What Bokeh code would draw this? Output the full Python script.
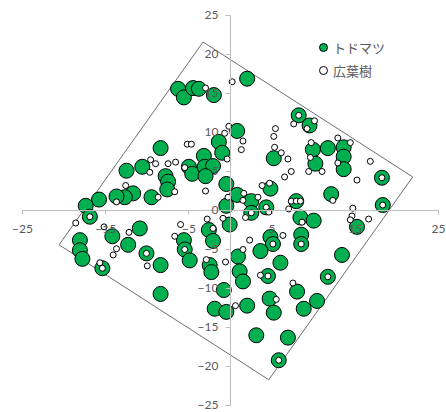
from bokeh.plotting import figure
from bokeh.models import Legend, LegendItem, FixedTicker
from bokeh.embed import file_html
from bokeh.resources import INLINE

# plot boundary (corners)
boundary_x = [-3.3, 21.9, 4.6, -20.6, -3.3]
boundary_y = [21.6, 4.3, -21.7, -4.4, 21.6]

# トドマツ positions
todomatsu_x = [-6.3, -5.6, -4.5, -3.8, -2.0, 2.0, 8.2, 9.5, 0.8, -1.4,
               -8.4, -1.0, -3.2, -5.0, -4.6, -3.1, -2.1, -3.0, 5.2, 9.9,
               11.7, 13.6, 13.6, 10.2, 13.6, 18.2, 12.1, 4.8, -0.5, -12.5,
               -10.6, -7.8, -7.5, -7.6, -11.7, -12.7, -13.7, -9.5, -15.8, -17.4,
               -16.9, -14.2, -10.9, -12.3, -18.1, -18.1, -17.8, -10.1, -5.6, -5.5,
               -4.9, -8.4, -2.6, -2.1, -2.5, -2.3, -0.5, 0.8, 2.5, 2.5,
               4.3, 7.9, 8.4, 10.0, 8.5, 8.5, -0.1, 4.8, 5.1, 3.6,
               0.9, 6.0, 13.4, 15.2, 18.3, -15.4, 1.1, 1.5, 4.5, 11.7,
               -8.4, -0.8, 8.0, 4.7, 10.4, 2.0, -1.9, -0.5, 5.2, 8.8,
               3.1, 6.9, 5.8]
todomatsu_y = [15.6, 14.5, 15.7, 15.6, 14.8, 16.9, 12.2, 10.9, 10.2, 8.8,
               8.0, 7.4, 7.0, 5.6, 4.7, 5.6, 5.7, 4.4, 6.7, 7.8,
               8.0, 8.1, 6.9, 6.0, 5.3, 4.2, 2.1, 2.8, 3.4, 5.1,
               5.6, 4.4, 3.7, 2.7, 2.2, 1.7, 1.8, 1.7, 1.4, 0.6,
               -0.8, -3.3, -2.3, -4.4, -3.8, -5.1, -6.2, -5.5, -3.8, -5.0,
               -6.4, -7.0, -2.5, -3.9, -7.0, -7.9, 0.6, 2.0, 1.2, -0.3,
               0.4, 1.2, -0.9, -1.3, -3.1, -4.3, -1.8, -3.4, -4.3, -5.2,
               -5.9, -6.7, -5.7, -2.1, 0.7, -7.4, -7.8, -9.1, -8.4, -8.5,
               -10.7, -10.2, -10.4, -11.3, -11.6, -12.2, -12.6, -13.0, -13.1, -12.6,
               -16.0, -16.3, -19.2]

# 広葉樹 positions
koyoju_x = [-3.0, 0.2, 9.2, 10.1, 7.6, 5.4, 5.2, -0.2, -0.7, 12.9,
            -5.2, -4.7, 1.5, 1.3, 5.3, 6.1, 6.9, 9.7, 9.6, 9.4,
            14.4, 12.9, 11.0, 16.8, 15.2, 12.3, 7.3, 6.5, 3.8, 4.7,
            -3.0, -5.5, -0.4, -9.6, -9.0, -9.7, -7.5, -6.6, -6.7, -12.6,
            -13.7, -8.7, -18.6, -15.2, -12.2, -16.9, -13.7, -14.1, -10.1, -6.7,
            -6.0, -5.5, -2.8, -2.1, -2.9, -0.9, -0.3, 1.6, 1.5, 3.3,
            2.5, 1.8, 4.3, 4.6, 7.0, 7.3, 7.9, 8.4, 8.6, 8.5,
            2.3, 6.3, 5.1, 1.5, -0.6, 14.7, 14.6, 14.4, 16.6, 18.3,
            18.2, 8.2, -15.7, -15.4, -10.0, 3.6, 4.5, 11.7, 7.5, 5.5,
            0.6, 5.8]
koyoju_y = [15.7, 16.5, 10.5, 11.5, 11.1, 10.5, 9.5, 10.8, 9.9, 9.3,
            8.5, 8.5, 8.9, 7.8, 8.1, 7.4, 6.6, 8.7, 6.8, 5.0,
            8.7, 6.1, 5.0, 6.3, 3.9, 1.3, 5.0, 4.3, 3.2, 3.5,
            2.5, 5.5, 6.6, 6.5, 6.0, 4.9, 6.0, 6.2, 2.4, 3.2,
            1.1, 1.7, -1.6, -2.1, -2.8, -0.8, -4.9, -5.7, -5.5, -3.3,
            -1.8, -5.0, -1.1, -2.3, -6.3, -1.0, 1.7, 2.2, 1.3, 1.7,
            -0.3, -0.9, 0.4, -0.2, 0.2, 1.2, 1.2, 1.2, -1.5, -4.3,
            -3.8, -3.2, -4.3, -5.0, -6.6, 0.3, -0.7, -1.2, -1.1, 0.7,
            4.2, 12.2, -6.7, -7.4, -7.1, -8.3, -8.4, -8.5, -9.3, -11.4,
            -12.2, -19.2]

x_ticks = [-25, -15, -5, 5, 15, 25]
y_ticks = [-25, -20, -15, -10, -5, 0, 5, 10, 15, 20, 25]
axis_bounds = (-25, 25)

p = figure(x_range=(-26.44, 25.96), y_range=(-25.9, 26.41),
           frame_width=436, frame_height=408,
           min_border_left=10, min_border_right=0,
           min_border_top=4, min_border_bottom=0,
           output_backend="svg", toolbar_location=None)
p.outline_line_color = None
p.xgrid.visible = False
p.ygrid.visible = False

p.line(boundary_x, boundary_y, line_color="#6e6e6e", line_width=1)

g = p.scatter(todomatsu_x, todomatsu_y, size=15, fill_color="#00b050",
              line_color="#000000", line_width=1)
w = p.scatter(koyoju_x, koyoju_y, size=6, fill_color="#ffffff",
              line_color="#000000", line_width=1)

for ax, ticks, out, stand in ((p.xaxis[0], x_ticks, 4, 11), (p.yaxis[0], y_ticks, 5, 7)):
    ax.fixed_location = 0
    ax.bounds = axis_bounds
    ax.ticker = FixedTicker(ticks=ticks)
    ax.minor_tick_line_color = None
    ax.axis_line_color = "#bfbfbf"
    ax.major_tick_line_color = "#bfbfbf"
    ax.major_tick_in = 0
    ax.major_tick_out = out
    ax.major_label_standoff = stand
    ax.major_label_text_font = "Lato"
    ax.major_label_text_font_size = "12px"
    ax.major_label_text_color = "#595959"

legend = Legend(items=[LegendItem(label="トドマツ", renderers=[g]),
                       LegendItem(label="広葉樹", renderers=[w])],
                location=(303, 332), padding=0, margin=0, spacing=3,
                glyph_width=20, glyph_height=20, label_standoff=-7,
                border_line_color=None, background_fill_alpha=0,
                label_text_font="Noto Sans CJK JP", label_text_font_size="13px",
                label_text_color="#595959")
p.add_layout(legend)

open("out.html", "w").write(file_html(p, INLINE))
